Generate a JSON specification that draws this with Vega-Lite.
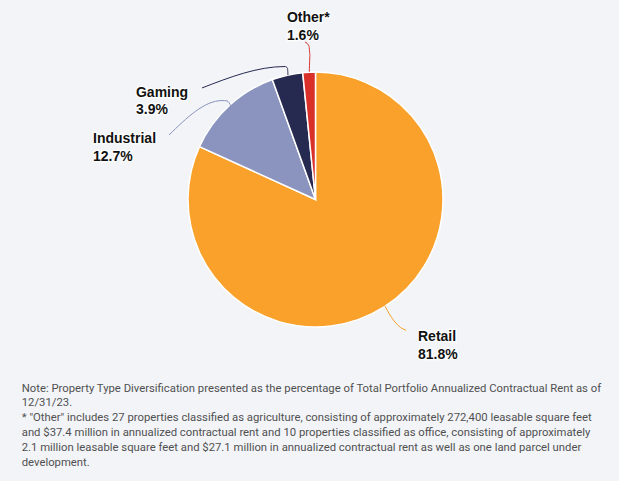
{
  "$schema": "https://vega.github.io/schema/vega-lite/v6.json",
  "autosize": {"type": "fit", "contains": "padding"},
  "width": 619,
  "height": 481,
  "padding": 0,
  "background": "#F2F4F8",
  "config": {"view": {"stroke": null}},
  "datasets": {
    "slices": [
      {"name": "Retail", "pct": 81.8, "ord": 1},
      {"name": "Industrial", "pct": 12.7, "ord": 2},
      {"name": "Gaming", "pct": 3.9, "ord": 3},
      {"name": "Other", "pct": 1.6, "ord": 4}
    ],
    "labels": [
      {"name": "Other", "label": "Other*", "value": "1.6%", "lx": -22.4, "ly": 139.2},
      {"name": "Gaming", "label": "Gaming", "value": "3.9%", "lx": -140.8, "ly": 80.4},
      {"name": "Industrial", "label": "Industrial", "value": "12.7%", "lx": -174.5, "ly": 44.3},
      {"name": "Retail", "label": "Retail", "value": "81.8%", "lx": 80.4, "ly": -111.0}
    ],
    "leaders": [
      {"name": "Other", "i": 1, "lx": -4.86, "ly": 100.2},
      {"name": "Other", "i": 2, "lx": -4.31, "ly": 113.3},
      {"name": "Other", "i": 3, "lx": -5.1, "ly": 120.4},
      {"name": "Other", "i": 4, "lx": -8.24, "ly": 123.5},
      {"name": "Gaming", "i": 1, "lx": -21.6, "ly": 97.6},
      {"name": "Gaming", "i": 2, "lx": -22.0, "ly": 103.1},
      {"name": "Gaming", "i": 3, "lx": -23.9, "ly": 104.3},
      {"name": "Gaming", "i": 4, "lx": -89.0, "ly": 87.5},
      {"name": "Industrial", "i": 1, "lx": -66.3, "ly": 73.3},
      {"name": "Industrial", "i": 2, "lx": -69.4, "ly": 77.3},
      {"name": "Industrial", "i": 3, "lx": -73.3, "ly": 77.6},
      {"name": "Industrial", "i": 4, "lx": -114.9, "ly": 50.6},
      {"name": "Retail", "i": 1, "lx": 54.5, "ly": -83.5},
      {"name": "Retail", "i": 2, "lx": 58.4, "ly": -90.6},
      {"name": "Retail", "i": 3, "lx": 63.7, "ly": -97.6},
      {"name": "Retail", "i": 4, "lx": 66.9, "ly": -100.5},
      {"name": "Retail", "i": 5, "lx": 71.0, "ly": -102.5}
    ],
    "notes": [
      {"line": "Note: Property Type Diversification presented as the percentage of Total Portfolio Annualized Contractual Rent as of", "lx": -230.4, "ly": -150.7},
      {"line": "12/31/23.", "lx": -230.4, "ly": -162.0},
      {"line": "*  \"Other\" includes 27 properties classified as agriculture, consisting of approximately 272,400 leasable square feet", "lx": -230.4, "ly": -173.7},
      {"line": "and $37.4 million in annualized contractual rent and 10 properties classified as office, consisting of approximately", "lx": -230.4, "ly": -185.5},
      {"line": "2.1 million leasable square feet and $27.1 million in annualized contractual rent as well as one land parcel under", "lx": -230.4, "ly": -197.3},
      {"line": "development.", "lx": -230.4, "ly": -208.8}
    ]
  },
  "layer": [
    {
      "data": {"name": "slices"},
      "mark": {"type": "arc", "outerRadius": 127.5, "stroke": "white", "strokeWidth": 1.5},
      "encoding": {
        "x": {"datum": 0, "type": "quantitative", "scale": {"domain": [-247.45, 238.04], "nice": false, "zero": false}, "axis": null},
        "y": {"datum": 0, "type": "quantitative", "scale": {"domain": [-220.78, 156.47], "nice": false, "zero": false}, "axis": null},
        "theta": {"field": "pct", "type": "quantitative", "stack": true},
        "order": {"field": "ord", "type": "quantitative"},
        "color": {"field": "name", "type": "nominal", "legend": null,
          "scale": {"domain": ["Retail", "Industrial", "Gaming", "Other"], "range": ["#F9A12B", "#8A94BE", "#262950", "#D9302A"]}}
      }
    },
    {
      "data": {"name": "leaders"},
      "mark": {"type": "line", "strokeWidth": 1, "interpolate": "monotone"},
      "encoding": {
        "x": {"field": "lx", "type": "quantitative", "scale": {"domain": [-247.45, 238.04], "nice": false, "zero": false}, "axis": null},
        "y": {"field": "ly", "type": "quantitative", "scale": {"domain": [-220.78, 156.47], "nice": false, "zero": false}, "axis": null},
        "detail": {"field": "name"},
        "order": {"field": "i", "type": "quantitative"},
        "color": {"field": "name", "type": "nominal", "legend": null}
      }
    },
    {
      "data": {"name": "labels"},
      "mark": {"type": "text", "align": "left", "baseline": "alphabetic", "font": "Liberation Sans", "fontSize": 14, "fontWeight": "bold", "stroke": "white", "strokeWidth": 2.5, "strokeOpacity": 0.9, "fill": "white"},
      "encoding": {
        "x": {"field": "lx", "type": "quantitative", "scale": {"domain": [-247.45, 238.04], "nice": false, "zero": false}, "axis": null},
        "y": {"field": "ly", "type": "quantitative", "scale": {"domain": [-220.78, 156.47], "nice": false, "zero": false}, "axis": null},
        "text": {"field": "label"}
      }
    },
    {
      "data": {"name": "labels"},
      "mark": {"type": "text", "align": "left", "baseline": "alphabetic", "dy": 17.5, "font": "Liberation Sans", "fontSize": 14, "fontWeight": "bold", "stroke": "white", "strokeWidth": 2.5, "strokeOpacity": 0.9, "fill": "white"},
      "encoding": {
        "x": {"field": "lx", "type": "quantitative", "scale": {"domain": [-247.45, 238.04], "nice": false, "zero": false}, "axis": null},
        "y": {"field": "ly", "type": "quantitative", "scale": {"domain": [-220.78, 156.47], "nice": false, "zero": false}, "axis": null},
        "text": {"field": "value"}
      }
    },
    {
      "data": {"name": "labels"},
      "mark": {"type": "text", "align": "left", "baseline": "alphabetic", "font": "Liberation Sans", "fontSize": 14, "fontWeight": "bold", "fill": "#111111"},
      "encoding": {
        "x": {"field": "lx", "type": "quantitative", "scale": {"domain": [-247.45, 238.04], "nice": false, "zero": false}, "axis": null},
        "y": {"field": "ly", "type": "quantitative", "scale": {"domain": [-220.78, 156.47], "nice": false, "zero": false}, "axis": null},
        "text": {"field": "label"}
      }
    },
    {
      "data": {"name": "labels"},
      "mark": {"type": "text", "align": "left", "baseline": "alphabetic", "dy": 17.5, "font": "Liberation Sans", "fontSize": 14, "fontWeight": "bold", "fill": "#111111"},
      "encoding": {
        "x": {"field": "lx", "type": "quantitative", "scale": {"domain": [-247.45, 238.04], "nice": false, "zero": false}, "axis": null},
        "y": {"field": "ly", "type": "quantitative", "scale": {"domain": [-220.78, 156.47], "nice": false, "zero": false}, "axis": null},
        "text": {"field": "value"}
      }
    },
    {
      "data": {"name": "notes"},
      "mark": {"type": "text", "align": "left", "baseline": "alphabetic", "font": "Roboto", "fontSize": 11.3, "fill": "#505050"},
      "encoding": {
        "x": {"field": "lx", "type": "quantitative", "scale": {"domain": [-247.45, 238.04], "nice": false, "zero": false}, "axis": null},
        "y": {"field": "ly", "type": "quantitative", "scale": {"domain": [-220.78, 156.47], "nice": false, "zero": false}, "axis": null},
        "text": {"field": "line"}
      }
    }
  ]
}
